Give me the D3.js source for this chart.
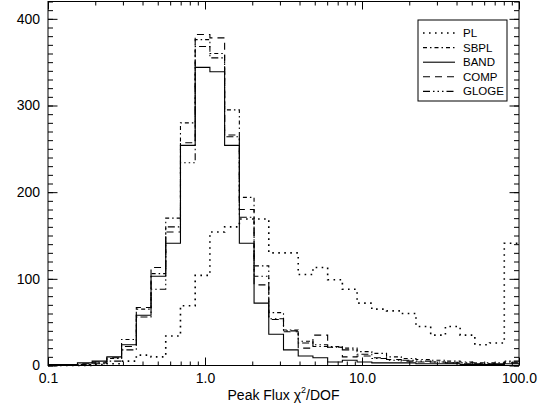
<!DOCTYPE html>
<html>
<head>
	<meta charset="utf-8">
	<title>peak flux chi2</title>
	<script src="https://cdn.jsdelivr.net/npm/d3@7"></script>
</head>
<style type="text/css">
	body {margin:0; background:#fff;}
	text {font-family:"Liberation Sans", Arial, sans-serif; fill:#000;}
</style>
<body>
</body>
</html>
<script type="text/javascript">
	// 32 log-spaced bins from 0.1 to 100 (lower edges + last upper edge)
	var binEdges = [0.1, 0.1241, 0.1540, 0.1911, 0.2371, 0.2943, 0.3652, 0.4532, 0.5623, 0.6978, 0.8660,
		1.0746, 1.3335, 1.6548, 2.0535, 2.5483, 3.1623, 3.9242, 4.8697, 6.0430, 7.4989, 9.3057,
		11.548, 14.330, 17.783, 22.067, 27.384, 33.982, 42.170, 52.330, 64.938, 80.584, 100];

	var PL    = [0,0,0,1,2,5,12,10,34,69,104,154,160,169,169,130,130,105,113,99,88,72,65,63,60,45,35,45,35,24,26,141];
	var SBPL  = [0,1,1,3,8,30,65,106,170,280,376,360,295,194,115,61,41,28,22,22,20,16,14,10,8,7,6,5,4,3,3,4];
	var BAND  = [1,1,3,5,10,24,58,103,141,254,344,339,254,141,72,36,18,11,9,4,6,4,3,3,3,2,2,2,1,1,1,2];
	var COMP  = [0,0,2,4,9,22,67,113,154,257,382,378,266,180,93,53,39,20,35,21,10,11,9,7,5,4,4,3,2,2,2,3];
	var GLOGE = [0,0,1,2,5,18,56,88,160,234,368,355,264,171,103,54,40,26,24,21,18,13,8,6,6,5,4,3,3,2,2,5];

	var seriesNames = ["PL", "SBPL", "BAND", "COMP", "GLOGE"];
	var seriesData = [PL, SBPL, BAND, COMP, GLOGE];
	var dashes = ["1.6,4.4", "4,3,1.5,3", null, "7,5", "7,3,1.5,3,1.5,3,1.5,3"];

	var xMajor = [0.1, 1, 10, 100];
	var xMinor = [0.2,0.3,0.4,0.5,0.6,0.7,0.8,0.9, 2,3,4,5,6,7,8,9, 20,30,40,50,60,70,80,90];
	var yMajor = [0, 100, 200, 300, 400];
	var yMinor = d3.range(0, 421, 10);

	var width = 547, height = 410;
	var pLeft = 48, pRight = 519, pTop = 1.5, pBottom = 365.5;

	var svg = d3.select("body").append("svg").attr("width", width).attr("height", height);

	var x = d3.scaleLog().domain([0.1, 100]).range([pLeft, pRight]);
	var y = d3.scaleLinear().domain([0, 420]).range([pBottom, pTop]);

	function axisG(axis, tx, ty) {
		var g = svg.append("g").attr("transform", "translate(" + tx + "," + ty + ")").call(axis);
		g.select(".domain").remove();
		g.selectAll(".tick line").attr("stroke", "#000");
		return g;
	}

	// bottom
	axisG(d3.axisBottom(x).tickValues(xMajor).tickSize(-8).tickPadding(4).tickFormat(d3.format(".1f")), 0, pBottom)
		.selectAll("text").attr("font-size", 14).attr("dy", "0.95em");
	axisG(d3.axisBottom(x).tickValues(xMinor).tickSize(-4).tickFormat(""), 0, pBottom);
	// top
	axisG(d3.axisTop(x).tickValues(xMajor).tickSize(-8).tickFormat(""), 0, pTop);
	axisG(d3.axisTop(x).tickValues(xMinor).tickSize(-4).tickFormat(""), 0, pTop);
	// left
	axisG(d3.axisLeft(y).tickValues(yMajor).tickSize(-9.5).tickPadding(8).tickFormat(d3.format("d")), pLeft, 0)
		.selectAll("text").attr("font-size", 14);
	axisG(d3.axisLeft(y).tickValues(yMinor).tickSize(-5).tickFormat(""), pLeft, 0);
	// right
	axisG(d3.axisRight(y).tickValues(yMajor).tickSize(-9.5).tickFormat(""), pRight, 0);
	axisG(d3.axisRight(y).tickValues(yMinor).tickSize(-5).tickFormat(""), pRight, 0);

	svg.append("rect").attr("x", pLeft).attr("y", pTop).attr("width", pRight - pLeft).attr("height", pBottom - pTop)
		.attr("fill", "none").attr("stroke", "#000").attr("stroke-width", 1);

	var line = d3.line().curve(d3.curveStepAfter)
		.x(function(d){return x(d[0])})
		.y(function(d){return y(d[1])});

	seriesData.forEach(function(vals, i) {
		var pts = vals.map(function(v, k){return [binEdges[k], v]});
		pts.push([binEdges[vals.length], vals[vals.length - 1]]);
		svg.append("path").datum(pts).attr("d", line)
			.attr("fill", "none").attr("stroke", "#000")
			.attr("stroke-width", i == 0 ? 1.6 : 1.1)
			.attr("stroke-dasharray", dashes[i]);
	});

	// legend
	var lg = svg.append("g");
	lg.append("rect").attr("x", 418).attr("y", 20).attr("width", 89).attr("height", 81)
		.attr("fill", "#fff").attr("stroke", "#000").attr("stroke-width", 1);
	seriesNames.forEach(function(name, i) {
		var yy = 33 + i * 14.6;
		lg.append("line").attr("x1", 423).attr("x2", 455).attr("y1", yy).attr("y2", yy)
			.attr("stroke", "#000").attr("stroke-width", i == 0 ? 1.6 : 1.1)
			.attr("stroke-dasharray", dashes[i]);
		lg.append("text").attr("x", 463).attr("y", yy + 4).attr("font-size", 11.5).text(name);
	});

	// x title
	var t = svg.append("text").attr("x", (pLeft + pRight) / 2).attr("y", 400)
		.attr("text-anchor", "middle").attr("font-size", 14);
	t.append("tspan").text("Peak Flux \u03C7");
	t.append("tspan").attr("font-size", 9).attr("dy", -7).text("2");
	t.append("tspan").attr("dy", 7).text("/DOF");
</script>
